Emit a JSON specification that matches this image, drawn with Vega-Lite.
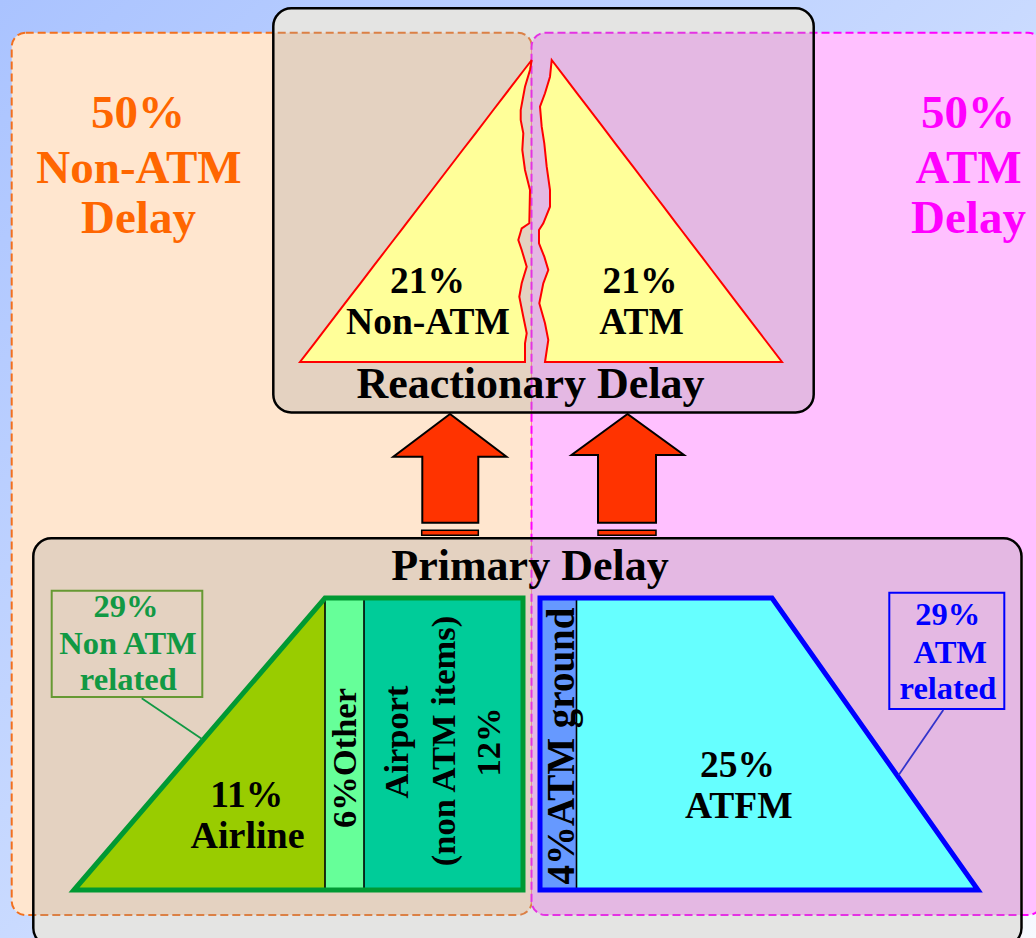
{
  "$schema": "https://vega.github.io/schema/vega-lite/v6.json",
  "width": 1036,
  "height": 938,
  "autosize": {"type": "none"},
  "padding": 0,
  "config": {"view": {"stroke": null}},
  "datasets": {
    "canvas": [{"x": 0, "x2": 1036, "y": 0, "y2": 938}],
    "boxes": [
      {"box": "Reactionary", "x": 273.3, "x2": 813.7, "y": 8.3, "y2": 412.5},
      {"box": "Primary", "x": 33.3, "x2": 1021.5, "y": 538.3, "y2": 946}
    ],
    "regions": [
      {"group": "Non-ATM", "x": 11.7, "x2": 532, "y": 32.7, "y2": 915},
      {"group": "ATM", "x": 531.5, "x2": 1042, "y": 32.7, "y2": 915}
    ],
    "reactionary": [
      {"group": "Non-ATM", "y": 60, "xl": 531.7, "xr": 531.7},
      {"group": "Non-ATM", "y": 70, "xl": 524.0, "xr": 530},
      {"group": "Non-ATM", "y": 86.7, "xl": 511.2, "xr": 525},
      {"group": "Non-ATM", "y": 110, "xl": 493.3, "xr": 520.7},
      {"group": "Non-ATM", "y": 120, "xl": 485.7, "xr": 520.7},
      {"group": "Non-ATM", "y": 133.3, "xl": 475.5, "xr": 523.3},
      {"group": "Non-ATM", "y": 150, "xl": 462.6, "xr": 522.3},
      {"group": "Non-ATM", "y": 170, "xl": 447.3, "xr": 525},
      {"group": "Non-ATM", "y": 190, "xl": 432.0, "xr": 530},
      {"group": "Non-ATM", "y": 223.3, "xl": 406.4, "xr": 529.3},
      {"group": "Non-ATM", "y": 228.3, "xl": 402.6, "xr": 521.7},
      {"group": "Non-ATM", "y": 240, "xl": 393.6, "xr": 518.3},
      {"group": "Non-ATM", "y": 250, "xl": 385.9, "xr": 521.7},
      {"group": "Non-ATM", "y": 266.7, "xl": 373.1, "xr": 526.7},
      {"group": "Non-ATM", "y": 283.3, "xl": 360.4, "xr": 521.7},
      {"group": "Non-ATM", "y": 296.7, "xl": 350.1, "xr": 519.3},
      {"group": "Non-ATM", "y": 316.7, "xl": 334.8, "xr": 523.3},
      {"group": "Non-ATM", "y": 333.3, "xl": 322.0, "xr": 526.7},
      {"group": "Non-ATM", "y": 343.3, "xl": 314.4, "xr": 525},
      {"group": "Non-ATM", "y": 362, "xl": 300.0, "xr": 525},
      {"group": "ATM", "y": 60, "xl": 551.7, "xr": 551.7},
      {"group": "ATM", "y": 76.7, "xl": 550, "xr": 564.4},
      {"group": "ATM", "y": 93.3, "xl": 545, "xr": 577.1},
      {"group": "ATM", "y": 106.7, "xl": 540, "xr": 587.3},
      {"group": "ATM", "y": 126.7, "xl": 541.7, "xr": 602.6},
      {"group": "ATM", "y": 143.3, "xl": 544.3, "xr": 615.2},
      {"group": "ATM", "y": 166.7, "xl": 546.7, "xr": 633.1},
      {"group": "ATM", "y": 190, "xl": 550, "xr": 650.8},
      {"group": "ATM", "y": 206.7, "xl": 550, "xr": 663.6},
      {"group": "ATM", "y": 223.3, "xl": 543.3, "xr": 676.2},
      {"group": "ATM", "y": 230, "xl": 539, "xr": 681.3},
      {"group": "ATM", "y": 243.3, "xl": 539, "xr": 691.5},
      {"group": "ATM", "y": 256.7, "xl": 544.3, "xr": 701.7},
      {"group": "ATM", "y": 270, "xl": 548.3, "xr": 711.8},
      {"group": "ATM", "y": 283.3, "xl": 543.3, "xr": 722.0},
      {"group": "ATM", "y": 303.3, "xl": 539.3, "xr": 737.2},
      {"group": "ATM", "y": 323.3, "xl": 545, "xr": 752.5},
      {"group": "ATM", "y": 340, "xl": 548.3, "xr": 765.2},
      {"group": "ATM", "y": 362, "xl": 545, "xr": 782.0}
    ],
    "arrows": [
      {"group": "Non-ATM", "y": 414, "xl": 450, "xr": 450},
      {"group": "Non-ATM", "y": 456.7, "xl": 393.3, "xr": 506.5},
      {"group": "Non-ATM", "y": 456.71, "xl": 422.3, "xr": 478.3},
      {"group": "Non-ATM", "y": 522.7, "xl": 422.3, "xr": 478.3},
      {"group": "ATM", "y": 414, "xl": 627.5, "xr": 627.5},
      {"group": "ATM", "y": 455, "xl": 571.5, "xr": 684},
      {"group": "ATM", "y": 455.01, "xl": 598, "xr": 656},
      {"group": "ATM", "y": 522.7, "xl": 598, "xr": 656}
    ],
    "arrowBars": [
      {"group": "Non-ATM", "x": 421.7, "x2": 478.3, "y": 530.3, "y2": 535.3},
      {"group": "ATM", "x": 598, "x2": 656, "y": 530.3, "y2": 535.3}
    ],
    "segments": [
      {"name": "Other", "x": 325, "x2": 364, "y": 598, "y2": 890},
      {"name": "Airport", "x": 364, "x2": 523, "y": 598, "y2": 890},
      {"name": "ATM ground", "x": 540, "x2": 576, "y": 598, "y2": 890}
    ],
    "airline": [
      {"x": 74, "yt": 890, "yb": 890},
      {"x": 325, "yt": 598, "yb": 890}
    ],
    "atfm": [
      {"x": 576, "yt": 598, "yb": 890},
      {"x": 772, "yt": 598, "yb": 890},
      {"x": 978, "yt": 890, "yb": 890}
    ],
    "outlines": [
      {"group": "Non-ATM", "x": 74, "yt": 890, "yb": 890},
      {"group": "Non-ATM", "x": 325, "yt": 598, "yb": 890},
      {"group": "Non-ATM", "x": 523, "yt": 598, "yb": 890},
      {"group": "ATM", "x": 540, "yt": 598, "yb": 890},
      {"group": "ATM", "x": 772, "yt": 598, "yb": 890},
      {"group": "ATM", "x": 978, "yt": 890, "yb": 890}
    ],
    "dividers": [
      {"x": 325, "y": 598, "y2": 890},
      {"x": 364, "y": 598, "y2": 890},
      {"x": 576.5, "y": 598, "y2": 890}
    ],
    "callouts": [
      {"group": "Non-ATM", "x": 51.7, "x2": 202.3, "y": 590.7, "y2": 697},
      {"group": "ATM", "x": 889.3, "x2": 1004.3, "y": 592.7, "y2": 709}
    ],
    "leaders": [
      {"group": "Non-ATM", "x": 141.7, "y": 698.3, "x2": 202.3, "y2": 739.3},
      {"group": "ATM", "x": 943.3, "y": 710, "x2": 898.7, "y2": 775}
    ],
    "labels": [
      {"role": "region", "group": "Non-ATM", "text": "50%", "x": 138, "y": 128},
      {"role": "region", "group": "Non-ATM", "text": "Non-ATM", "x": 139, "y": 183},
      {"role": "region", "group": "Non-ATM", "text": "Delay", "x": 138.5, "y": 233},
      {"role": "region", "group": "ATM", "text": "50%", "x": 968, "y": 128},
      {"role": "region", "group": "ATM", "text": "ATM", "x": 968.5, "y": 183},
      {"role": "region", "group": "ATM", "text": "Delay", "x": 968.5, "y": 233},
      {"role": "reactionary", "group": "Non-ATM", "text": "21%", "x": 427.5, "y": 292.7},
      {"role": "reactionary", "group": "Non-ATM", "text": "Non-ATM", "x": 428, "y": 334.3},
      {"role": "reactionary", "group": "ATM", "text": "21%", "x": 640, "y": 293.3},
      {"role": "reactionary", "group": "ATM", "text": "ATM", "x": 641.5, "y": 334.3},
      {"role": "title", "group": "Reactionary", "text": "Reactionary Delay", "x": 530.5, "y": 398.3},
      {"role": "title", "group": "Primary", "text": "Primary Delay", "x": 530, "y": 580},
      {"role": "callout", "group": "Non-ATM", "text": "29%", "x": 126, "y": 617.3},
      {"role": "callout", "group": "Non-ATM", "text": "Non ATM", "x": 128, "y": 654},
      {"role": "callout", "group": "Non-ATM", "text": "related", "x": 128.3, "y": 690},
      {"role": "callout", "group": "ATM", "text": "29%", "x": 947.7, "y": 625},
      {"role": "callout", "group": "ATM", "text": "ATM", "x": 950.3, "y": 662.7},
      {"role": "callout", "group": "ATM", "text": "related", "x": 948, "y": 699.3},
      {"role": "segment", "group": "Non-ATM", "text": "11%", "x": 246.7, "y": 806.7},
      {"role": "segmentWide", "group": "Non-ATM", "text": "Airline", "x": 247.5, "y": 848.3},
      {"role": "segment", "group": "ATM", "text": "25%", "x": 737.5, "y": 776.7},
      {"role": "segment", "group": "ATM", "text": "ATFM", "x": 738.8, "y": 818.3},
      {"role": "vertical", "group": "Non-ATM", "text": "6%Other", "x": 356, "y": 758},
      {"role": "vertical", "group": "Non-ATM", "text": "Airport", "x": 408, "y": 742},
      {"role": "vertical", "group": "Non-ATM", "text": "(non ATM items)", "x": 455, "y": 741},
      {"role": "vertical", "group": "Non-ATM", "text": "12%", "x": 500, "y": 742},
      {"role": "verticalWide", "group": "ATM", "text": "4%ATM ground", "x": 574, "y": 746}
    ]
  },
  "layer": [
    {
      "data": {"name": "canvas"},
      "mark": {
        "type": "rect",
        "fill": {
          "gradient": "linear", "x1": 0, "y1": 0, "x2": 1, "y2": 1,
          "stops": [
            {"offset": 0, "color": "#aac3ff"},
            {"offset": 0.5, "color": "#c9daff"},
            {"offset": 1, "color": "#f7f9ff"}
          ]
        }
      },
      "encoding": {
        "x": {"field": "x", "type": "quantitative", "scale": {"domain": [0, 1036], "nice": false, "zero": false}, "axis": null},
        "x2": {"field": "x2"},
        "y": {"field": "y", "type": "quantitative", "scale": {"domain": [0, 938], "nice": false, "zero": false, "reverse": true}, "axis": null},
        "y2": {"field": "y2"}
      }
    },
    {
      "data": {"name": "boxes"},
      "mark": {"type": "rect", "fill": "#ffffff", "cornerRadius": 18},
      "encoding": {
        "x": {"field": "x", "type": "quantitative", "axis": null},
        "x2": {"field": "x2"},
        "y": {"field": "y", "type": "quantitative", "axis": null},
        "y2": {"field": "y2"}
      }
    },
    {
      "data": {"name": "regions"},
      "transform": [{"filter": "datum.group == 'Non-ATM'"}],
      "mark": {"type": "rect", "fill": "#ffe6cf", "stroke": "#f2701e", "strokeWidth": 2, "strokeDash": [8, 4], "cornerRadius": 14},
      "encoding": {
        "x": {"field": "x", "type": "quantitative", "axis": null},
        "x2": {"field": "x2"},
        "y": {"field": "y", "type": "quantitative", "axis": null},
        "y2": {"field": "y2"}
      }
    },
    {
      "data": {"name": "regions"},
      "transform": [{"filter": "datum.group == 'ATM'"}],
      "mark": {"type": "rect", "fill": "#ffc0ff", "stroke": "#ff00ff", "strokeWidth": 2, "strokeDash": [8, 4], "cornerRadius": 14},
      "encoding": {
        "x": {"field": "x", "type": "quantitative", "axis": null},
        "x2": {"field": "x2"},
        "y": {"field": "y", "type": "quantitative", "axis": null},
        "y2": {"field": "y2"}
      }
    },
    {
      "data": {"name": "boxes"},
      "mark": {"type": "rect", "fill": "#a5a6a2", "fillOpacity": 0.3, "stroke": "#000000", "strokeWidth": 2.5, "cornerRadius": 18},
      "encoding": {
        "x": {"field": "x", "type": "quantitative", "axis": null},
        "x2": {"field": "x2"},
        "y": {"field": "y", "type": "quantitative", "axis": null},
        "y2": {"field": "y2"}
      }
    },
    {
      "data": {"name": "arrows"},
      "mark": {"type": "area", "orient": "horizontal", "fill": "#ff3300", "fillOpacity": 1, "stroke": "#000000", "strokeWidth": 2, "strokeJoin": "miter"},
      "encoding": {
        "y": {"field": "y", "type": "quantitative", "axis": null},
        "x": {"field": "xl", "type": "quantitative", "axis": null},
        "x2": {"field": "xr"},
        "detail": {"field": "group", "type": "nominal"}
      }
    },
    {
      "data": {"name": "arrowBars"},
      "mark": {"type": "rect", "fill": "#ff3300", "stroke": "#000000", "strokeWidth": 1.5},
      "encoding": {
        "x": {"field": "x", "type": "quantitative", "axis": null},
        "x2": {"field": "x2"},
        "y": {"field": "y", "type": "quantitative", "axis": null},
        "y2": {"field": "y2"}
      }
    },
    {
      "data": {"name": "reactionary"},
      "mark": {"type": "area", "orient": "horizontal", "fill": "#ffff99", "fillOpacity": 1, "stroke": "#ff0000", "strokeWidth": 2, "strokeJoin": "miter"},
      "encoding": {
        "y": {"field": "y", "type": "quantitative", "axis": null},
        "x": {"field": "xl", "type": "quantitative", "axis": null},
        "x2": {"field": "xr"},
        "detail": {"field": "group", "type": "nominal"}
      }
    },
    {
      "data": {"name": "segments"},
      "mark": {"type": "rect"},
      "encoding": {
        "x": {"field": "x", "type": "quantitative", "axis": null},
        "x2": {"field": "x2"},
        "y": {"field": "y", "type": "quantitative", "axis": null},
        "y2": {"field": "y2"},
        "color": {"field": "name", "type": "nominal", "scale": {"domain": ["Other", "Airport", "ATM ground"], "range": ["#66ff99", "#00cc99", "#6699ff"]}, "legend": null}
      }
    },
    {
      "data": {"name": "airline"},
      "mark": {"type": "area", "orient": "vertical", "fill": "#99cc00", "fillOpacity": 1},
      "encoding": {
        "x": {"field": "x", "type": "quantitative", "axis": null},
        "y": {"field": "yt", "type": "quantitative", "axis": null},
        "y2": {"field": "yb"}
      }
    },
    {
      "data": {"name": "atfm"},
      "mark": {"type": "area", "orient": "vertical", "fill": "#66ffff", "fillOpacity": 1},
      "encoding": {
        "x": {"field": "x", "type": "quantitative", "axis": null},
        "y": {"field": "yt", "type": "quantitative", "axis": null},
        "y2": {"field": "yb"}
      }
    },
    {
      "data": {"name": "dividers"},
      "mark": {"type": "rule", "color": "#000000", "strokeWidth": 1.6},
      "encoding": {
        "x": {"field": "x", "type": "quantitative", "axis": null},
        "y": {"field": "y", "type": "quantitative", "axis": null},
        "y2": {"field": "y2"}
      }
    },
    {
      "data": {"name": "outlines"},
      "mark": {"type": "area", "orient": "vertical", "fillOpacity": 0, "strokeWidth": 5, "strokeJoin": "miter"},
      "encoding": {
        "x": {"field": "x", "type": "quantitative", "axis": null},
        "y": {"field": "yt", "type": "quantitative", "axis": null},
        "y2": {"field": "yb"},
        "detail": {"field": "group", "type": "nominal"},
        "stroke": {"condition": {"test": "datum.group == 'ATM'", "value": "#0000ff"}, "value": "#009933"}
      }
    },
    {
      "data": {"name": "callouts"},
      "mark": {"type": "rect", "fillOpacity": 0, "strokeWidth": 2},
      "encoding": {
        "x": {"field": "x", "type": "quantitative", "axis": null},
        "x2": {"field": "x2"},
        "y": {"field": "y", "type": "quantitative", "axis": null},
        "y2": {"field": "y2"},
        "stroke": {"condition": {"test": "datum.group == 'ATM'", "value": "#0000ff"}, "value": "#669933"}
      }
    },
    {
      "data": {"name": "leaders"},
      "mark": {"type": "rule", "strokeWidth": 1.8},
      "encoding": {
        "x": {"field": "x", "type": "quantitative", "axis": null},
        "y": {"field": "y", "type": "quantitative", "axis": null},
        "x2": {"field": "x2"},
        "y2": {"field": "y2"},
        "color": {"condition": {"test": "datum.group == 'ATM'", "value": "#3333cc"}, "value": "#119944"}
      }
    },
    {
      "data": {"name": "labels"},
      "transform": [{"filter": "datum.role == 'region'"}],
      "mark": {"type": "text", "font": "Liberation Serif", "fontWeight": "bold", "fontSize": 47, "align": "center", "baseline": "alphabetic"},
      "encoding": {
        "x": {"field": "x", "type": "quantitative", "axis": null},
        "y": {"field": "y", "type": "quantitative", "axis": null},
        "text": {"field": "text"},
        "color": {"condition": {"test": "datum.group == 'ATM'", "value": "#ff00ff"}, "value": "#ff6600"}
      }
    },
    {
      "data": {"name": "labels"},
      "transform": [{"filter": "datum.role == 'reactionary'"}],
      "mark": {"type": "text", "font": "Liberation Serif", "fontWeight": "bold", "fontSize": 37.5, "align": "center", "baseline": "alphabetic", "color": "#000000"},
      "encoding": {
        "x": {"field": "x", "type": "quantitative", "axis": null},
        "y": {"field": "y", "type": "quantitative", "axis": null},
        "text": {"field": "text"}
      }
    },
    {
      "data": {"name": "labels"},
      "transform": [{"filter": "datum.role == 'title'"}],
      "mark": {"type": "text", "font": "Liberation Serif", "fontWeight": "bold", "fontSize": 44, "align": "center", "baseline": "alphabetic", "color": "#000000"},
      "encoding": {
        "x": {"field": "x", "type": "quantitative", "axis": null},
        "y": {"field": "y", "type": "quantitative", "axis": null},
        "text": {"field": "text"}
      }
    },
    {
      "data": {"name": "labels"},
      "transform": [{"filter": "datum.role == 'callout'"}],
      "mark": {"type": "text", "font": "Liberation Serif", "fontWeight": "bold", "fontSize": 32.5, "align": "center", "baseline": "alphabetic"},
      "encoding": {
        "x": {"field": "x", "type": "quantitative", "axis": null},
        "y": {"field": "y", "type": "quantitative", "axis": null},
        "text": {"field": "text"},
        "color": {"condition": {"test": "datum.group == 'ATM'", "value": "#0000ff"}, "value": "#119944"}
      }
    },
    {
      "data": {"name": "labels"},
      "transform": [{"filter": "datum.role == 'segment'"}],
      "mark": {"type": "text", "font": "Liberation Serif", "fontWeight": "bold", "fontSize": 37.5, "align": "center", "baseline": "alphabetic", "color": "#000000"},
      "encoding": {
        "x": {"field": "x", "type": "quantitative", "axis": null},
        "y": {"field": "y", "type": "quantitative", "axis": null},
        "text": {"field": "text"}
      }
    },
    {
      "data": {"name": "labels"},
      "transform": [{"filter": "datum.role == 'segmentWide'"}],
      "mark": {"type": "text", "font": "Liberation Serif", "fontWeight": "bold", "fontSize": 38, "letterSpacing": 1.6, "align": "center", "baseline": "alphabetic", "color": "#000000"},
      "encoding": {
        "x": {"field": "x", "type": "quantitative", "axis": null},
        "y": {"field": "y", "type": "quantitative", "axis": null},
        "text": {"field": "text"}
      }
    },
    {
      "data": {"name": "labels"},
      "transform": [{"filter": "datum.role == 'vertical'"}],
      "mark": {"type": "text", "font": "Liberation Serif", "fontWeight": "bold", "fontSize": 34.5, "align": "center", "baseline": "alphabetic", "angle": 270, "color": "#000000"},
      "encoding": {
        "x": {"field": "x", "type": "quantitative", "axis": null},
        "y": {"field": "y", "type": "quantitative", "axis": null},
        "text": {"field": "text"}
      }
    },
    {
      "data": {"name": "labels"},
      "transform": [{"filter": "datum.role == 'verticalWide'"}],
      "mark": {"type": "text", "font": "Liberation Serif", "fontWeight": "bold", "fontSize": 39, "align": "center", "baseline": "alphabetic", "angle": 270, "color": "#000000"},
      "encoding": {
        "x": {"field": "x", "type": "quantitative", "axis": null},
        "y": {"field": "y", "type": "quantitative", "axis": null},
        "text": {"field": "text"}
      }
    }
  ]
}
